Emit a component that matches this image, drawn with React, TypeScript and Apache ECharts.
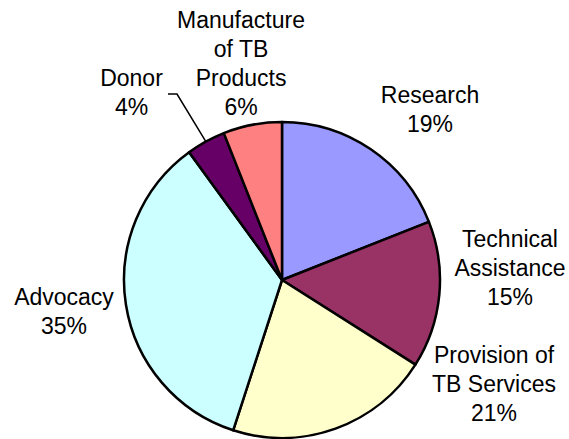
import React, { useEffect, useRef } from "react";
import * as echarts from "echarts";

const categories = [
  "Research",
  "Technical Assistance",
  "Provision of TB Services",
  "Advocacy",
  "Donor",
  "Manufacture of TB Products",
];
const values = [19, 15, 21, 35, 4, 6];
const labelNames = [
  "Research",
  "Technical\nAssistance",
  "Provision of\nTB Services",
  "Advocacy",
  "Donor",
  "Manufacture\nof TB\nProducts",
];
const colors = ["#9999FF", "#993366", "#FFFFCC", "#CCFFFF", "#660066", "#FF8080"];
const labelPos: [number, number][] = [
  [430, 109.5],
  [510, 268],
  [494, 384],
  [64, 311.5],
  [131.5, 92.5],
  [241, 63.5],
];
const donorLeader: [number, number][] = [
  [168, 94],
  [177, 94],
];

export default function App() {
  const ref = useRef<HTMLDivElement>(null);
  useEffect(() => {
    document.body.style.margin = "0";
    const chart = echarts.init(ref.current!, null, { renderer: "svg" });
    chart.setOption({
      animation: false,
      backgroundColor: "#ffffff",
      series: [
        {
          type: "pie",
          center: [282, 280],
          radius: 158,
          startAngle: 90,
          clockwise: true,
          avoidLabelOverlap: false,
          itemStyle: { borderColor: "#000000", borderWidth: 2.5 },
          label: {
            show: true,
            position: "outside",
            color: "#000000",
            fontFamily: "Liberation Sans, Arial, sans-serif",
            fontSize: 23,
            lineHeight: 29,
            align: "center",
            formatter: (p: any) =>
              labelNames[p.dataIndex] + "\n" + Math.round(p.percent) + "%",
          },
          labelLine: {
            show: false,
            lineStyle: { color: "#000000", width: 1.5 },
          },
          emphasis: { disabled: true },
          labelLayout: (params: any) => {
            const i = params.dataIndex;
            const p = labelPos[i];
            const res: any = {
              x: p[0],
              y: p[1],
              align: "center",
              verticalAlign: "middle",
            };
            if (i === 4) {
              const lp = params.labelLinePoints;
              const end = lp ? lp[0] : [205, 140];
              res.labelLinePoints = [donorLeader[0], donorLeader[1], end];
            }
            return res;
          },
          data: categories.map((name, i) => ({
            name,
            value: values[i],
            itemStyle: { color: colors[i] },
            labelLine: { show: i === 4 },
          })),
        },
      ],
    });
    return () => chart.dispose();
  }, []);
  return <div ref={ref} style={{ width: 569, height: 439 }} />;
}
